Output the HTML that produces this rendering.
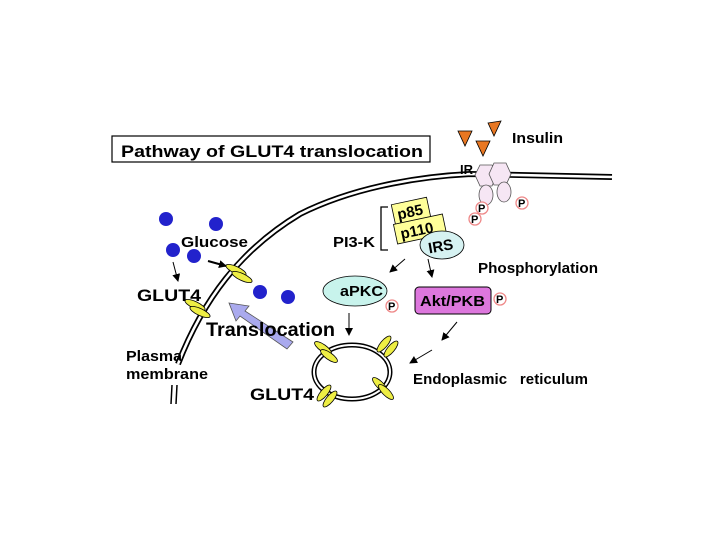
<!DOCTYPE html>
<html><head><style>
html,body{margin:0;padding:0;background:#fff;}
svg{display:block;}
text{font-family:"Liberation Sans",sans-serif;font-weight:bold;fill:#000;}
</style></head><body>
<svg width="720" height="540" viewBox="0 0 720 540" xmlns="http://www.w3.org/2000/svg">
<defs>
<marker id="ah" markerWidth="8" markerHeight="8" refX="7" refY="4" orient="auto" markerUnits="userSpaceOnUse"><path d="M0,0 L8,4 L0,8 z" fill="#000"/></marker>
</defs>
<rect x="112" y="136" width="318" height="26" fill="#fff" stroke="#000" stroke-width="1.2"/>
<text x="121" y="157" font-size="17" textLength="302" lengthAdjust="spacingAndGlyphs">Pathway of GLUT4 translocation</text>
<path d="M178,364 C203,300 240,250 300,214 C360,184 430,176 470,174 L612,177" fill="none" stroke="#000" stroke-width="6"/>
<path d="M178,364 C203,300 240,250 300,214 C360,184 430,176 470,174 L612,177" fill="none" stroke="#fff" stroke-width="2.6"/>
<path d="M172,385 L171,404 M177,385 L176,404" stroke="#000" stroke-width="1.5"/>
<polygon points="458,131 472,131 465,146" fill="#e87722" stroke="#000" stroke-width="0.8"/>
<polygon points="476,141 490,141 483,156" fill="#e87722" stroke="#000" stroke-width="0.8"/>
<polygon points="488,123 501,121 494,136" fill="#e87722" stroke="#000" stroke-width="0.8"/>
<text x="512" y="143" font-size="15" textLength="51" lengthAdjust="spacingAndGlyphs">Insulin</text>
<text x="460" y="174" font-size="13">IR</text>
<polygon points="480,165 492,165 497,175 492,186 480,186 475,175" fill="#f6e6f4" stroke="#555" stroke-width="0.8"/>
<polygon points="494,163 506,163 511,174 506,185 494,185 489,174" fill="#f6e6f4" stroke="#555" stroke-width="0.8"/>
<ellipse cx="486" cy="195" rx="7" ry="10" fill="#f6e6f4" stroke="#555" stroke-width="0.8"/>
<ellipse cx="504" cy="192" rx="7" ry="10" fill="#f6e6f4" stroke="#555" stroke-width="0.8"/>
<g font-size="11">
<circle cx="482" cy="208" r="6" fill="#fff" stroke="#e88" stroke-width="1.3"/><text x="478" y="212">P</text>
<circle cx="522" cy="203" r="6" fill="#fff" stroke="#e88" stroke-width="1.3"/><text x="518" y="207">P</text>
<circle cx="475" cy="219" r="6" fill="#fff" stroke="#e88" stroke-width="1.3"/><text x="471" y="223">P</text>
</g>
<path d="M388,207 L381,207 L381,250 L388,250" fill="none" stroke="#000" stroke-width="1.3"/>
<text x="333" y="247" font-size="15" textLength="42" lengthAdjust="spacingAndGlyphs">PI3-K</text>
<g transform="rotate(-12 410 211)"><rect x="393" y="201" width="36" height="20" fill="#ffff99" stroke="#000" stroke-width="0.8"/><text x="397" y="217" font-size="15">p85</text></g>
<g transform="rotate(-12 420 229)"><rect x="395" y="219" width="50" height="20" fill="#ffff99" stroke="#000" stroke-width="0.8"/><text x="400" y="235" font-size="15">p110</text></g>
<ellipse cx="442" cy="245" rx="22" ry="14" fill="#d6f2f2" stroke="#000" stroke-width="0.8"/>
<text x="428" y="251" font-size="15" transform="rotate(-10 442 245)">IRS</text>
<text x="478" y="273" font-size="15" textLength="120" lengthAdjust="spacingAndGlyphs">Phosphorylation</text>
<g stroke="#000" stroke-width="1" fill="none">
<line x1="405" y1="259" x2="390" y2="272" marker-end="url(#ah)"/>
<line x1="428" y1="259" x2="432" y2="277" marker-end="url(#ah)"/>
<line x1="349" y1="313" x2="349" y2="335" marker-end="url(#ah)"/>
<line x1="457" y1="322" x2="442" y2="340" marker-end="url(#ah)"/>
<line x1="432" y1="350" x2="410" y2="363" marker-end="url(#ah)"/>
<line x1="173" y1="262" x2="178" y2="281" marker-end="url(#ah)"/>
</g>
<line x1="208" y1="261" x2="226" y2="266" stroke="#000" stroke-width="2" marker-end="url(#ah)"/>
<ellipse cx="355" cy="291" rx="32" ry="15" fill="#c8f3ec" stroke="#000" stroke-width="0.8"/>
<text x="340" y="296" font-size="15" textLength="43" lengthAdjust="spacingAndGlyphs">aPKC</text>
<circle cx="392" cy="306" r="6" fill="#fff" stroke="#e88" stroke-width="1.3"/><text x="388" y="310" font-size="11">P</text>
<rect x="415" y="287" width="76" height="27" rx="4" fill="#dd77dd" stroke="#000" stroke-width="1"/>
<text x="420" y="306" font-size="15" textLength="65" lengthAdjust="spacingAndGlyphs">Akt/PKB</text>
<circle cx="500" cy="299" r="6" fill="#fff" stroke="#e88" stroke-width="1.3"/><text x="496" y="303" font-size="11">P</text>
<ellipse cx="352" cy="372" rx="38" ry="27" fill="none" stroke="#000" stroke-width="5"/>
<ellipse cx="352" cy="372" rx="38" ry="27" fill="none" stroke="#fff" stroke-width="2"/>
<g fill="#eeee44" stroke="#000" stroke-width="0.8">
<ellipse cx="323" cy="348" rx="10" ry="3.5" transform="rotate(35 323 348)"/><ellipse cx="329" cy="356" rx="10" ry="3.5" transform="rotate(35 329 356)"/>
<ellipse cx="384" cy="344" rx="10" ry="3.5" transform="rotate(-50 384 344)"/><ellipse cx="391" cy="349" rx="10" ry="3.5" transform="rotate(-50 391 349)"/>
<ellipse cx="324" cy="393" rx="10" ry="3.5" transform="rotate(-50 324 393)"/><ellipse cx="330" cy="399" rx="10" ry="3.5" transform="rotate(-50 330 399)"/>
<ellipse cx="380" cy="385" rx="10" ry="3.5" transform="rotate(45 380 385)"/><ellipse cx="386" cy="392" rx="10" ry="3.5" transform="rotate(45 386 392)"/>
<ellipse cx="236" cy="270" rx="11" ry="3.5" transform="rotate(25 236 270)"/><ellipse cx="242" cy="277" rx="11" ry="3.5" transform="rotate(25 242 277)"/>
<ellipse cx="195" cy="305" rx="11" ry="3.5" transform="rotate(25 195 305)"/><ellipse cx="200" cy="312" rx="11" ry="3.5" transform="rotate(25 200 312)"/>
</g>
<text x="250" y="400" font-size="17" textLength="64" lengthAdjust="spacingAndGlyphs">GLUT4</text>
<text x="413" y="384" font-size="15" textLength="175" lengthAdjust="spacing" xml:space="preserve">Endoplasmic   reticulum</text>
<g fill="#2222cc">
<circle cx="166" cy="219" r="7"/><circle cx="216" cy="224" r="7"/><circle cx="173" cy="250" r="7"/><circle cx="194" cy="256" r="7"/><circle cx="260" cy="292" r="7"/><circle cx="288" cy="297" r="7"/>
</g>
<text x="181" y="247" font-size="15" textLength="67" lengthAdjust="spacingAndGlyphs">Glucose</text>
<text x="137" y="301" font-size="17" textLength="64" lengthAdjust="spacingAndGlyphs">GLUT4</text>
<polygon points="293,342 287,349 240,316 236,321 229,303 249,306 245,311" fill="#aaaaee" stroke="#555" stroke-width="0.8"/>
<text x="206" y="336" font-size="19" textLength="129" lengthAdjust="spacingAndGlyphs">Translocation</text>
<text x="126" y="361" font-size="15" textLength="56" lengthAdjust="spacingAndGlyphs">Plasma</text>
<text x="126" y="379" font-size="15" textLength="82" lengthAdjust="spacingAndGlyphs">membrane</text>
</svg>
</body></html>
